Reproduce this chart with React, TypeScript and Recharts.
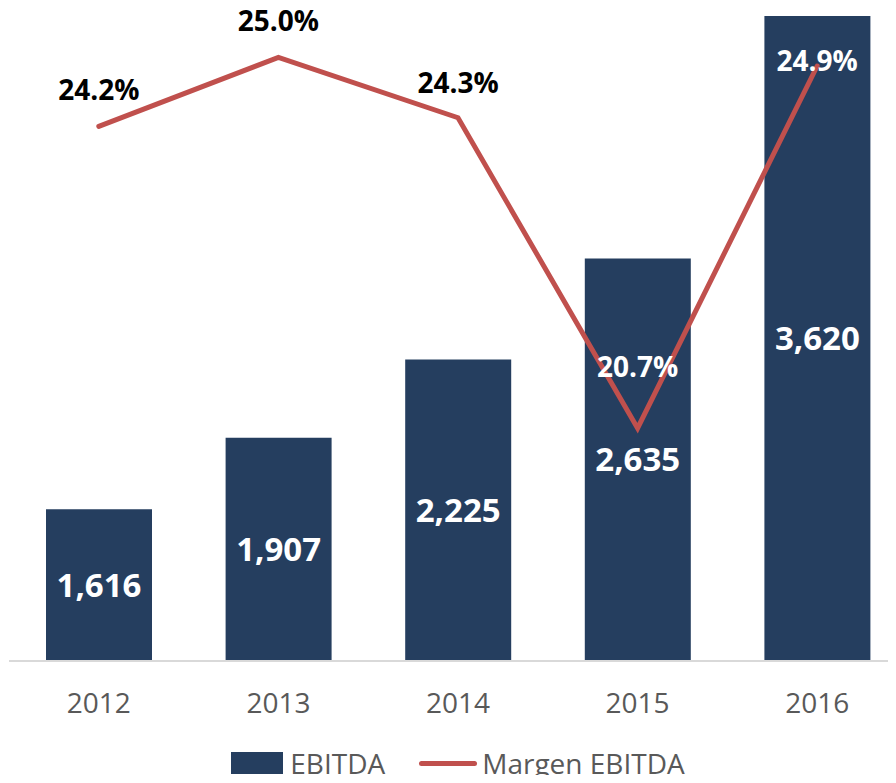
import React from "react";
import { ComposedChart, Bar, Line, XAxis, YAxis, Legend, LabelList } from "recharts";

const years = ["2012", "2013", "2014", "2015", "2016"];
const ebitda = [1616, 1907, 2225, 2635, 3620];
const margen = [24.2, 25.0, 24.3, 20.7, 24.9];

// per-point placement of the margin labels (px from the point) and their colour
const marginLabelDy = [-37, -37, -36, -62, -6];
const marginLabelFill = ["#000000", "#000000", "#000000", "#ffffff", "#ffffff"];

const data = years.map((year, i) => ({ year, ebitda: ebitda[i], margen: margen[i] }));

const FONT = "'Open Sans', 'Liberation Sans', sans-serif";
const NAVY = "#253E5F";
const RED = "#C0504D";

const MarginLabel = (props: any) => {
  const { x, y, value, index } = props;
  if (x == null || y == null) return null;
  return (
    <text
      x={x}
      y={y + marginLabelDy[index]}
      textAnchor="middle"
      dominantBaseline="central"
      fill={marginLabelFill[index]}
      fontSize={28}
      fontWeight={700}
      fontFamily={FONT}
    >
      {`${Number(value).toFixed(1)}%`}
    </text>
  );
};

const LegendContent = () => (
  <div style={{ display: "flex", justifyContent: "center", alignItems: "center", height: 32, lineHeight: "32px", fontFamily: FONT, fontSize: 28, color: "#595959", whiteSpace: "nowrap" }}>
    <span style={{ display: "inline-block", width: 52, height: 22, background: NAVY, marginRight: 7 }} />
    <span style={{ marginRight: 34 }}>EBITDA</span>
    <span style={{ display: "inline-block", width: 58, height: 5, borderRadius: 3, background: RED, marginRight: 5 }} />
    <span>Margen EBITDA</span>
  </div>
);

export default function App() {
  return (
    <div style={{ width: 888, height: 783, overflow: "hidden", marginTop: -8, marginBottom: -8 }}>
      <ComposedChart width={899} height={779} data={data} margin={{ top: 16, right: 0, bottom: 0, left: 1 }} barSize={106}>
        <XAxis
          dataKey="year"
          height={86}
          tickLine={false}
          axisLine={{ stroke: "#D9D9D9", strokeWidth: 2 }}
          tickMargin={26}
          tick={{ fontSize: 28, fill: "#595959", fontFamily: FONT }}
        />
        <YAxis yAxisId="left" hide domain={[1000, 3620]} allowDataOverflow />
        <YAxis yAxisId="right" hide orientation="right" domain={[18, 25.48]} allowDataOverflow />
        <Legend verticalAlign="bottom" content={<LegendContent />} />
        <Bar yAxisId="left" dataKey="ebitda" name="EBITDA" fill={NAVY} isAnimationActive={false}>
          <LabelList
            dataKey="ebitda"
            position="center"
            formatter={(v: any) => Number(v).toLocaleString("en-US")}
            style={{ fill: "#ffffff", fontSize: 33, fontWeight: 700, fontFamily: FONT }}
          />
        </Bar>
        <Line
          yAxisId="right"
          dataKey="margen"
          name="Margen EBITDA"
          type="linear"
          stroke={RED}
          strokeWidth={5}
          strokeLinecap="round"
          dot={false}
          activeDot={false}
          isAnimationActive={false}
          label={<MarginLabel />}
        />
      </ComposedChart>
    </div>
  );
}
